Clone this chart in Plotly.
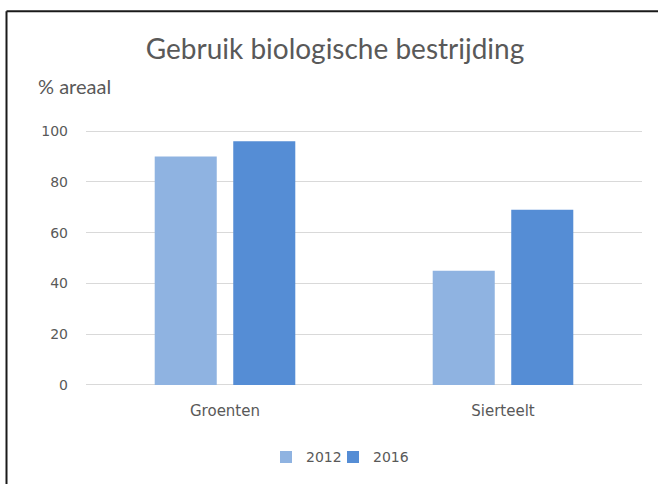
import plotly.graph_objects as go

categories = ["Groenten", "Sierteelt"]
series_names = ["2012", "2016"]
values_2012 = [90, 45]
values_2016 = [96, 69]
y_ticks = [0, 20, 40, 60, 80, 100]

colors = ["#8FB3E1", "#558DD5"]
title_font = "Lato, 'Open Sans', sans-serif"
tick_font = "'DejaVu Sans', Verdana, sans-serif"
gray = "#595959"

fig = go.Figure()
for i, (name, vals, col) in enumerate(zip(series_names, [values_2012, values_2016], colors)):
    fig.add_trace(go.Bar(x=categories, y=vals, name=name, marker=dict(color=col, line=dict(width=0)),
                         legend="legend" if i == 0 else "legend2"))

W, H = 658, 484
y_lo, y_hi = -0.4, 100.4
ppu = (385.7 - 131) / 100.0
T = 131 - (y_hi - 100) * ppu
Bpx = 385.7 + (0 - y_lo) * ppu
L, R = 86, 16
B = H - Bpx
pw = W - L - R
ph = Bpx - T

def px(x):
    return (x - L) / pw

def py(y):
    return (Bpx - y) / ph

legend_style = dict(orientation="h", xanchor="left", y=py(457), yanchor="middle",
                    font=dict(family=tick_font, size=14, color=gray), itemwidth=30,
                    bgcolor="rgba(0,0,0,0)")

fig.update_layout(
    width=W, height=H,
    margin=dict(l=L, r=R, t=T, b=B),
    paper_bgcolor="white", plot_bgcolor="white",
    barmode="group", bargap=0.435, bargroupgap=0.21,
    title=dict(text="Gebruik biologische bestrijding", x=335 / W, xanchor="center",
               y=1 - 49 / H, yanchor="middle",
               font=dict(family=title_font, size=28, color=gray)),
    font=dict(family=tick_font, color=gray),
    showlegend=True,
    legend=dict(x=px(266), **legend_style),
    legend2=dict(x=px(333), **legend_style),
    xaxis=dict(showgrid=False, showline=False, zeroline=False, ticks="",
               tickfont=dict(family=tick_font, size=15, color=gray), ticklabelstandoff=14),
    yaxis=dict(range=[y_lo, y_hi], tickvals=y_ticks, showgrid=True, gridcolor="#D9D9D9", gridwidth=1,
               zeroline=False, showline=False, ticks="",
               tickfont=dict(family=tick_font, size=14, color=gray),
               ticklabelstandoff=17),
    annotations=[dict(text="% areaal", xref="paper", yref="paper", x=px(36), xanchor="left",
                      y=py(86), yanchor="middle", showarrow=False,
                      font=dict(family=title_font, size=20, color=gray))],
    shapes=[
        dict(type="line", xref="paper", yref="paper", x0=px(6.5), x1=px(W + 5), y0=py(11), y1=py(11),
             line=dict(color="#1a1a1a", width=2)),
        dict(type="line", xref="paper", yref="paper", x0=px(6.5), x1=px(6.5), y0=py(11), y1=py(H + 5),
             line=dict(color="#1a1a1a", width=2)),
    ],
)

fig.write_html("out.html", config={"displayModeBar": False},
               post_script="document.body.style.margin='0';document.body.style.overflow='hidden';")
